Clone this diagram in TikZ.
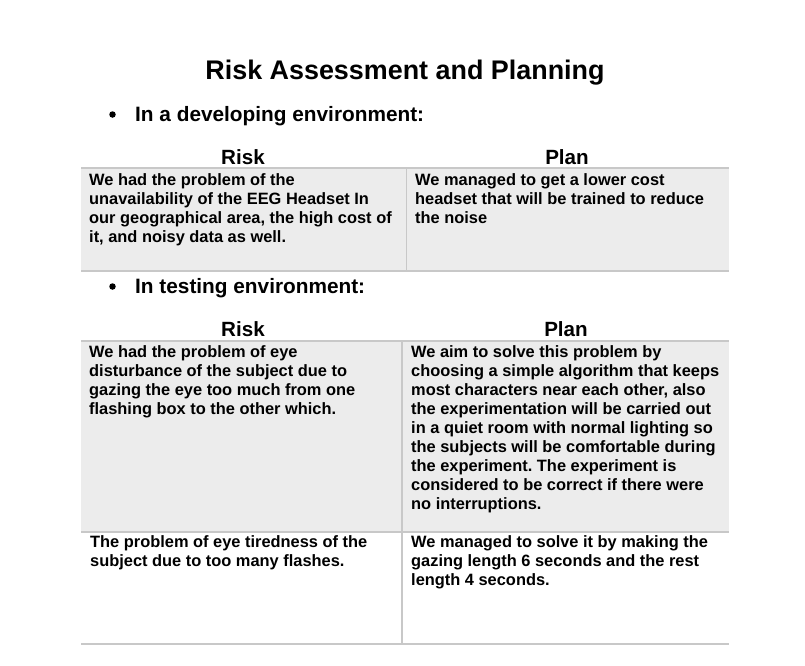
\documentclass[tikz,border=0pt]{standalone}
\usepackage{fontspec}
\setmainfont{Liberation Sans}
\frenchspacing
\definecolor{cellgray}{HTML}{ECECEC}
\definecolor{rulegray}{HTML}{C8C8C8}
\tikzset{
  rule/.style={draw=rulegray, line width=1.3pt},
  shade/.style={fill=cellgray, draw=none},
  dot/.style={circle, fill=black, inner sep=0pt, minimum size=6.5pt},
  celltext/.style={anchor=base west, inner sep=0pt, font=\bfseries\fontsize{16.4}{19}\selectfont},
  headtext/.style={anchor=base, inner sep=0pt, font=\bfseries\fontsize{20.6}{24}\selectfont},
  bullettext/.style={anchor=base west, inner sep=0pt, font=\bfseries\fontsize{20.8}{24}\selectfont},
  titletext/.style={anchor=base, inner sep=0pt, font=\bfseries\fontsize{26.9}{32}\selectfont},
}
\newcommand{\celllines}[2]{\parbox[t]{#1}{\fontsize{16.4}{19}\selectfont\bfseries\frenchspacing #2}}
\begin{document}
\begin{tikzpicture}[x=1pt,y=-1pt]
\useasboundingbox (0,0) rectangle (805,665);
% title
\node[titletext] (title) at (405,79) {Risk Assessment and Planning};
% bullet 1
\node[dot] (b1dot) at (112.5,114.5) {};
\node[bullettext] (b1) at (135,121) {In a developing environment:};
% table 1
\node[headtext] (h1risk) at (243,164) {Risk};
\node[headtext] (h1plan) at (567,164) {Plan};
\fill[shade] (81,168) rectangle (729,271);
\draw[rule] (81,168) -- (729,168);
\draw[rule] (81,271) -- (729,271);
\draw[rule] (406.7,168) -- (406.7,271);
\node[celltext] (t1risk) at (89,185) {\celllines{315pt}{We had the problem of the\\unavailability of the EEG Headset In\\our geographical area, the high cost of\\it, and noisy data as well.}};
\node[celltext] (t1plan) at (415,185) {\celllines{310pt}{We managed to get a lower cost\\headset that will be trained to reduce\\the noise}};
% bullet 2
\node[dot] (b2dot) at (112.5,286.5) {};
\node[bullettext] (b2) at (135,293) {In testing environment:};
% table 2
\node[headtext] (h2risk) at (243,336) {Risk};
\node[headtext] (h2plan) at (566,336) {Plan};
\fill[shade] (81,341) rectangle (729,532);
\draw[rule] (81,341) -- (729,341);
\draw[rule] (81,532) -- (729,532);
\draw[rule] (81,644) -- (729,644);
\draw[rule] (402,341) -- (402,644);
\node[celltext] (t2risk) at (89,357) {\celllines{310pt}{We had the problem of eye\\disturbance of the subject due to\\gazing the eye too much from one\\flashing box to the other which.}};
\node[celltext] (t2plan) at (411,357) {\celllines{320pt}{We aim to solve this problem by\\choosing a simple algorithm that keeps\\most characters near each other, also\\the experimentation will be carried out\\in a quiet room with normal lighting so\\the subjects will be comfortable during\\the experiment. The experiment is\\considered to be correct if there were\\no interruptions.}};
\node[celltext] (t3risk) at (90,547) {\celllines{310pt}{The problem of eye tiredness of the\\subject due to too many flashes.}};
\node[celltext] (t3plan) at (411,547) {\celllines{320pt}{We managed to solve it by making the\\gazing length 6 seconds and the rest\\length 4 seconds.}};
\end{tikzpicture}
\end{document}
